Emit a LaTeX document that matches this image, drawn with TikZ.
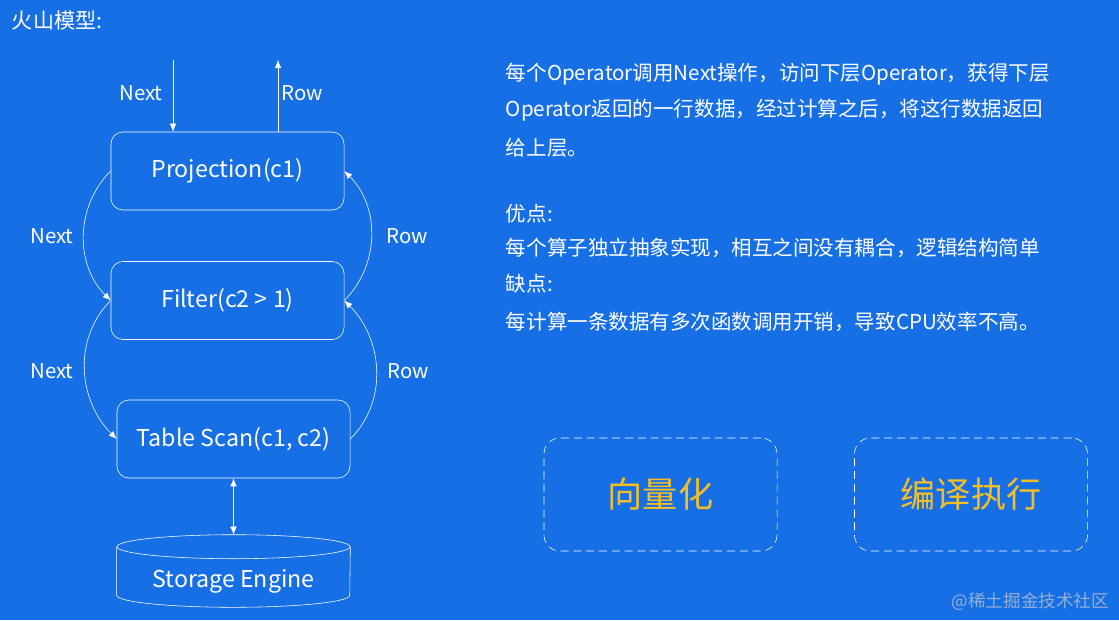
\documentclass[tikz,border=0pt]{standalone}
\usepackage{fontspec}
\setmainfont{Noto Sans CJK SC}
\usepackage{tikz}
\usetikzlibrary{arrows.meta,positioning,shapes.geometric}
\definecolor{bgblue}{RGB}{23,111,229}
\definecolor{hiyellow}{RGB}{242,190,40}
\definecolor{markgray}{RGB}{150,175,215}

\begin{document}
\begin{tikzpicture}[x=0.025cm,y=0.025cm,>={Latex[length=2mm,width=1.6mm]},
  every node/.style={text=white},
  op/.style={draw=white,rounded corners=0.3cm,minimum width=5.825cm,minimum height=1.95cm,font=\fontsize{16.5}{19}\selectfont},
  lbl/.style={font=\fontsize{14.5}{17}\selectfont},
  body/.style={anchor=west,font=\fontsize{14.6}{18}\selectfont},
  idea/.style={draw=white,dashed,dash pattern=on 2mm off 1.2mm,rounded corners=0.4cm,minimum width=5.825cm,minimum height=2.825cm,text=hiyellow,font=\fontsize{25}{30}\selectfont}]
\fill[bgblue] (0,0) rectangle (1119,-620);
\useasboundingbox (0,0) rectangle (1119,-620);
\node[anchor=west,font=\fontsize{15}{18}\selectfont] (title) at (7,-20) {火山模型:};
% operators
\node[op] (proj) at (227.5,-171) {Projection(c1)};
\node[op] (filter) at (227.5,-300.5) {Filter(c2 > 1)};
\node[op] (tscan) at (233.5,-439) {Table Scan(c1, c2)};
\node[minimum width=5.825cm,minimum height=1.8cm,inner sep=0pt,
  label={[yshift=-0.27cm,font=\fontsize{16.5}{19}\selectfont]center:Storage Engine}] (store) at (233.5,-571) {};
\draw[white] ([yshift=-0.3cm]store.north) ellipse [x radius=2.9125cm,y radius=0.3cm];
\draw[white] ([yshift=-0.3cm]store.north west) -- ([yshift=0.3cm]store.south west)
  arc[start angle=180,end angle=360,x radius=2.9125cm,y radius=0.3cm] -- ([yshift=-0.3cm]store.north east);
\coordinate (nextin) at (173,-60);
\coordinate (rowout) at (278,-60);
\draw[white,->] (nextin) -- (nextin |- proj.north);
\draw[white,->] (rowout |- proj.north) -- (rowout);
\node[lbl] (n0) at (141,-93) {Next};
\node[lbl] (r0) at (302,-93) {Row};
\draw[white,->] (proj.west) to[out=225,in=135] (filter.west);
\draw[white,->] (filter.east) to[out=45,in=-45] (proj.east);
\draw[white,->] (filter.west) to[out=225,in=135] (tscan.west);
\draw[white,->] (tscan.east) to[out=45,in=-45] (filter.east);
\node[lbl] (n1) at (52,-236) {Next};
\node[lbl] (r1) at (407,-236) {Row};
\node[lbl] (n2) at (52,-371) {Next};
\node[lbl] (r2) at (408,-371) {Row};
\draw[white,<->] (tscan.south) -- (store.north);
% description
\node[body] (d1) at (501,-74) {每个Operator调用Next操作，访问下层Operator，获得下层};
\node[body] (d2) at (501,-110) {Operator返回的一行数据，经过计算之后，将这行数据返回};
\node[body] (d3) at (501,-148) {给上层。};
\node[body] (pro) at (501,-214) {优点:};
\node[body] (pro1) at (501,-248) {每个算子独立抽象实现，相互之间没有耦合，逻辑结构简单};
\node[body] (con) at (501,-284) {缺点:};
\node[body] (con1) at (501,-322) {每计算一条数据有多次函数调用开销，导致CPU效率不高。};
% improvements
\node[idea] (vec) at (660.5,-494.5) {向量化};
\node[idea] (jit) at (971,-494.5) {编译执行};
\node[anchor=east,text=markgray,font=\fontsize{12.5}{15}\selectfont] (mark) at (1114,-602) {@稀土掘金技术社区};
\end{tikzpicture}
\end{document}
